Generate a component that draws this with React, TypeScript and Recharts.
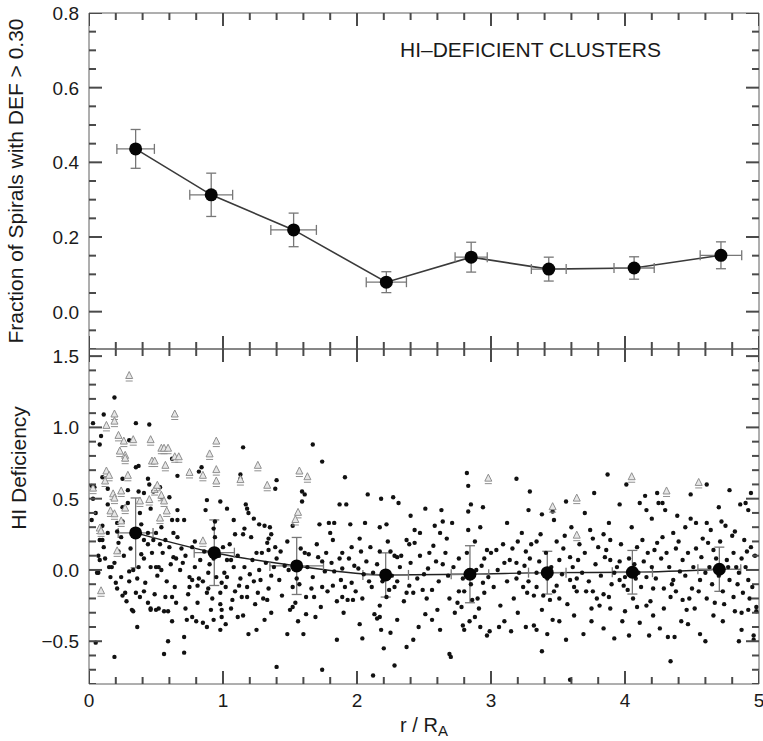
import { ComposedChart, Scatter, Line, XAxis, YAxis, ErrorBar } from 'recharts';

// top panel: fraction of spirals with DEF > 0.30, per radial bin
const binX = [0.348, 0.912, 1.527, 2.219, 2.852, 3.431, 4.068, 4.716];
const fracY = [0.436, 0.313, 0.219, 0.079, 0.146, 0.114, 0.117, 0.151];
const fracErrY = [0.052, 0.058, 0.045, 0.028, 0.04, 0.032, 0.03, 0.036];
const fracErrX = [0.14, 0.16, 0.17, 0.15, 0.12, 0.13, 0.15, 0.155];

// bottom panel: binned mean deficiency
const meanX = [0.348, 0.935, 1.55, 2.214, 2.843, 3.42, 4.055, 4.704];
const meanY = [0.26, 0.121, 0.028, -0.035, -0.03, -0.019, -0.016, 0.005];
const meanErrY = [0.245, 0.23, 0.2, 0.155, 0.2, 0.15, 0.153, 0.155];
const meanErrX = [0.13, 0.15, 0.2, 0.17, 0.14, 0.14, 0.15, 0.16];

// individual galaxies (r/RA, DEF)
const dotsInner: [number, number][] = [
  [0.19,1.21],[0.03,1.03],[0.11,1.09],[0.09,0.94],[0.08,0.88],[0.35,1.03],[0.45,1.02],[0.30,0.91],[1.15,0.86],[1.67,0.88],
  [1.74,0.76],[0.35,0.72],[0.37,0.73],[0.84,0.72],[0.82,0.69],[0.62,0.78],[0.66,0.66],[0.10,0.65],[0.25,0.64],[0.02,0.59],
  [0.44,0.64],[0.45,0.60],[1.13,0.67],[1.13,0.64],[1.40,0.63],[1.39,0.57],[1.91,0.65],[2.08,0.53],[1.87,0.46],[1.92,0.46],
  [1.17,0.46],[1.18,0.43],[0.88,0.49],[0.98,0.48],[1.03,0.43],[1.08,0.35],[1.09,0.25],[1.19,0.40],[1.23,0.36],[1.27,0.32],
  [1.31,0.31],[1.35,0.30],[1.36,0.25],[1.34,0.22],[1.33,0.19],[1.21,0.23],[1.25,0.12],[1.34,0.14],[1.39,0.16],[1.43,0.13],
  [1.52,0.31],[1.59,0.48],[1.59,0.55],[1.61,0.53],[1.72,0.32],[1.79,0.33],[1.80,0.26],[1.83,0.33],[1.95,0.32],[2.06,0.33],
  [2.17,0.30],[2.22,0.32],[2.18,0.50],[2.27,0.51],[2.31,0.47],[1.82,0.21],[1.89,0.12],[1.96,0.16],[2.03,0.13],[2.10,0.16],
  [2.17,0.13],[2.25,0.13],[2.28,0.10],[2.30,0.09],[1.61,0.12],[1.64,0.11],[1.71,0.09],[1.74,0.06],[1.76,-0.01],[1.83,-0.01],
  [1.89,0.01],[1.98,0.03],[2.01,0.01],[2.05,-0.03],[2.12,-0.02],[2.09,-0.08],[1.96,-0.09],[1.88,-0.07],[1.82,-0.11],[1.78,-0.15],
  [1.74,-0.12],[1.66,-0.13],[1.68,-0.19],[1.62,-0.19],[1.57,-0.10],[1.52,-0.12],[1.50,-0.28],[1.54,-0.23],[1.52,-0.26],[1.62,-0.31],
  [1.69,-0.33],[1.89,-0.19],[1.93,-0.21],[1.97,-0.21],[2.04,-0.20],[2.17,-0.25],[2.13,-0.31],[2.17,-0.33],[2.22,-0.19],[2.28,-0.12],
  [2.24,-0.14],[1.49,0.00],[1.42,-0.07],[1.34,-0.13],[1.38,0.02],[1.27,0.00],[1.28,-0.07],[1.23,-0.08],[1.26,-0.16],[1.30,-0.20],
  [1.33,-0.21],[1.14,-0.19],[1.15,-0.32],[1.07,-0.21],[1.06,-0.27],[0.98,-0.16],[0.98,-0.24],[0.99,-0.28],[0.91,-0.28],[1.12,-0.11],
  [1.13,-0.06],[1.08,0.02],[1.01,-0.02],[1.03,-0.05],[0.89,-0.02],[0.82,-0.06],[0.81,-0.11],[0.88,-0.16],[0.81,-0.23],[0.75,-0.05],
  [0.75,-0.12],[0.77,-0.33],[0.72,-0.27],[0.62,-0.19],[0.65,-0.23],[0.57,-0.19],[0.52,-0.27],[0.50,-0.28],[0.59,-0.29],[0.46,-0.28],
  [0.44,-0.23],[0.41,-0.15],[0.38,-0.19],[0.35,-0.16],[0.33,-0.29],[0.27,-0.16],[0.25,-0.18],[0.21,-0.13],[0.07,-0.02],[0.08,0.07],
  [0.07,0.10],[0.06,-0.02],[0.22,0.13],[0.22,0.19],[0.24,0.23],[0.17,0.02],[0.15,0.02],[0.20,-0.09],[0.24,-0.05],[0.30,-0.08],
  [0.30,-0.01],[0.33,0.00],[0.37,0.02],[0.41,0.08],[0.46,0.02],[0.50,0.02],[0.52,0.02],[0.51,-0.04],[0.54,0.00],[0.44,0.18],
  [0.48,0.21],[0.53,0.18],[0.57,0.21],[0.60,0.16],[0.63,0.09],[0.65,0.08],[0.69,0.15],[0.70,0.05],[0.66,0.23],[0.63,0.26],
  [0.62,0.35],[0.66,0.35],[0.71,0.35],[0.66,0.42],[0.54,0.30],[0.50,0.26],[0.44,0.26],[0.41,0.21],[0.39,0.32],[0.38,0.40],
  [0.41,0.54],[0.37,0.55],[0.46,0.43],[0.48,0.55],[0.53,0.58],[0.54,0.51],[0.60,0.51],[0.25,0.34],[0.25,0.44],[0.21,0.33],
  [0.21,0.27],[0.14,0.26],[0.10,0.31],[0.02,0.35],[0.05,0.40],[0.03,0.50],[0.04,0.58],[0.14,0.46],[0.14,0.57],[0.29,0.56],
  [0.29,0.47],[0.08,0.21],[0.10,0.21],[0.11,0.16],[0.77,-0.07],[0.89,-0.13],[0.99,-0.09],[1.18,-0.19],[1.18,-0.12],[1.03,0.07],
  [1.06,0.07],[0.93,0.08],[1.00,0.16],[0.83,0.07],[0.77,0.16],[0.79,0.20],[0.87,0.42],[0.94,0.34],[0.93,0.29],[0.94,0.23],
  [1.16,0.29],[1.15,0.25],
];

const dotsLow: [number, number][] = [
  [0.05,-0.51],[0.19,-0.61],[0.32,-0.28],[0.46,-0.27],[0.56,-0.29],[0.59,-0.50],[0.56,-0.59],[0.71,-0.47],[0.71,-0.58],[0.73,-0.35],
  [0.80,-0.36],[0.85,-0.37],[0.88,-0.40],[0.98,-0.42],[0.93,-0.35],[0.99,-0.33],[1.11,-0.33],[1.19,-0.45],[1.25,-0.42],[1.31,-0.35],
  [1.40,-0.68],[1.48,-0.45],[1.60,-0.45],[1.74,-0.70],[1.85,-0.49],[2.04,-0.48],[2.12,-0.74],[2.15,-0.34],[2.18,-0.42],[2.20,-0.55],
  [2.28,-0.67],[2.25,-0.44],[2.30,-0.35],[2.37,-0.54],[2.42,-0.49],[2.56,-0.35],[2.69,-0.59],[2.70,-0.61],[2.79,-0.39],[2.80,-0.42],
  [2.84,-0.36],[2.92,-0.40],[2.97,-0.46],[2.99,-0.43],[3.06,-0.40],[3.10,-0.36],[3.15,-0.43],[3.26,-0.40],[3.32,-0.39],[3.34,-0.42],
  [3.38,-0.57],[3.46,-0.35],[3.51,-0.36],[3.56,-0.49],[3.59,-0.77],[3.69,-0.45],[3.75,-0.36],[3.84,-0.41],[3.92,-0.48],[4.03,-0.46],
  [4.11,-0.37],[4.18,-0.46],[4.26,-0.41],[4.32,-0.47],[4.34,-0.64],[4.37,-0.47],[4.42,-0.36],[4.56,-0.45],[4.60,-0.50],[4.73,-0.36],
  [4.87,-0.42],[4.96,-0.46],[4.96,-0.49],[4.82,-0.29],[4.98,-0.29],
  [0.36,-0.40],[0.62,-0.36],[1.02,-0.38],[1.36,-0.30],[1.56,-0.36],[1.90,-0.30],[2.02,-0.38],[2.46,-0.40],[2.62,-0.42],[2.88,-0.33],
  [3.20,-0.30],[3.42,-0.45],[3.62,-0.32],[3.98,-0.36],[4.21,-0.32],[4.47,-0.38],[4.66,-0.32],[4.85,-0.50],
];

const dotsOuter: [number, number][] = [
  [2.51,0.43],[2.63,0.42],[2.64,0.34],[2.71,0.33],[2.62,0.26],[2.67,0.22],[2.82,0.68],[2.83,0.59],[2.85,0.46],[2.83,0.41],
  [2.83,0.28],[2.94,0.44],[3.19,0.64],[3.29,0.55],[3.38,0.39],[3.46,0.41],[3.47,0.35],[3.56,0.48],[3.77,0.54],[3.87,0.67],
  [3.88,0.33],[3.96,0.46],[4.01,0.60],[4.11,0.47],[4.15,0.52],[4.16,0.42],[4.24,0.54],[4.25,0.47],[4.28,0.47],[4.30,0.42],
  [4.39,0.38],[4.49,0.53],[4.49,0.36],[4.53,0.33],[4.61,0.60],[4.61,0.33],[4.64,0.28],[4.72,0.34],[4.75,0.31],[4.78,0.56],
  [4.82,0.27],[4.86,0.46],[4.90,0.47],[4.92,0.42],[4.94,0.54],[4.94,0.16],[4.89,0.21],[4.87,0.08],[4.91,0.13],
  [2.40,0.38],[2.58,0.31],[2.92,0.30],[3.12,0.33],[3.28,0.42],[3.60,0.30],[3.70,0.40],[4.05,0.30],[4.20,0.36],[4.45,0.30],[4.70,0.44],
  [2.37,0.21],[2.43,0.28],[2.47,0.26],[2.39,0.18],[2.43,0.19],[2.33,0.10],[2.54,0.12],[2.59,0.06],[2.64,0.04],[2.53,0.01],
  [2.50,-0.03],[2.39,-0.11],[2.42,-0.16],[2.37,-0.16],[2.30,-0.08],[2.56,-0.14],[2.49,-0.14],[2.69,-0.20],[2.75,-0.23],[2.78,-0.26],
  [2.60,-0.28],[2.51,-0.31],[2.76,0.08],[2.76,-0.15],[2.80,-0.15],[2.86,-0.21],[2.91,-0.27],[2.95,-0.16],[2.94,-0.09],[2.98,-0.05],
  [2.89,0.00],[2.95,0.08],[2.97,0.14],[3.00,0.12],[3.04,0.14],[3.09,0.18],[3.10,0.05],[3.14,0.07],[3.19,0.05],[3.19,-0.06],
  [3.24,-0.12],[3.27,-0.16],[3.32,-0.18],[3.34,-0.12],[3.39,-0.18],[3.44,-0.21],[3.34,-0.02],[3.29,0.08],[3.26,0.13],[3.23,0.26],
  [3.20,0.20],[3.34,0.20],[3.37,0.25],[3.49,0.20],[3.51,0.07],[3.54,0.15],[3.59,0.09],[3.65,0.07],[3.64,-0.06],[3.59,-0.07],
  [3.49,-0.11],[3.51,-0.20],[3.64,-0.15],[3.71,-0.15],[3.76,-0.15],[3.84,-0.17],[3.88,-0.19],[3.81,-0.25],[3.75,-0.27],[3.66,0.18],
  [3.74,0.28],[3.76,0.22],[3.80,0.16],[3.84,0.25],[3.89,0.21],[3.85,0.09],[3.89,0.07],[3.96,0.06],[3.92,-0.02],[3.96,-0.07],
  [3.99,-0.11],[4.02,-0.14],[4.04,0.00],[4.08,-0.06],[4.12,-0.12],[4.16,-0.05],[4.21,-0.13],[4.17,0.12],[4.22,0.14],[4.13,0.21],
  [4.09,0.16],[4.24,0.19],[4.28,0.23],[4.36,0.26],[4.31,0.12],[4.38,0.15],[4.43,0.07],[4.41,-0.01],[4.36,-0.07],[4.29,-0.13],
  [4.34,-0.19],[4.38,-0.15],[4.43,-0.21],[4.50,-0.13],[4.56,-0.07],[4.60,-0.02],[4.63,0.02],[4.57,0.09],[4.53,0.15],[4.62,0.19],
  [4.68,0.08],[4.76,0.07],[4.81,0.12],[4.83,0.02],[4.78,-0.07],[4.85,-0.02],[4.92,-0.07],[4.93,-0.20],[4.88,-0.16],[4.81,-0.19],
  [4.73,-0.15],[4.67,-0.23],[4.61,-0.20],[4.52,-0.27],[4.46,-0.28],[4.29,-0.27],[4.16,-0.25],[4.09,-0.26],[4.00,-0.29],[3.89,-0.27],
  [4.92,-0.28],[4.98,-0.26],
];

// the crowded band around zero
const dotsBand: [number, number][] = [
  [0.12,0.08],[0.16,-0.05],[0.19,0.05],[0.26,0.10],[0.28,-0.22],[0.31,0.15],[0.36,-0.06],[0.39,0.11],[0.42,-0.09],[0.47,0.12],
  [0.49,-0.17],[0.55,0.12],[0.58,-0.08],[0.61,0.04],[0.64,-0.12],[0.68,0.00],[0.72,0.10],[0.74,-0.17],[0.79,0.02],[0.85,-0.08],
  [0.86,0.13],[0.90,0.04],[0.92,-0.20],[0.95,-0.05],[0.97,0.10],[1.02,-0.12],[1.05,0.18],[1.09,-0.15],[1.11,0.10],[1.16,0.02],
  [1.20,-0.03],[1.22,0.07],[1.24,-0.24],[1.29,0.12],[1.32,0.05],[1.36,-0.04],[1.40,0.08],[1.44,-0.18],[1.46,0.03],[1.48,0.20],
  [1.55,-0.06],[1.58,0.15],[1.63,0.02],[1.67,-0.05],[1.70,0.18],[1.73,-0.26],[1.77,0.12],[1.81,0.05],[1.85,-0.22],[1.87,0.08],
  [1.91,-0.12],[1.94,0.08],[1.99,-0.15],[2.02,0.22],[2.07,0.06],[2.11,-0.12],[2.15,0.04],[2.19,-0.08],[2.23,0.20],[2.26,-0.04],
  [2.32,0.02],[2.35,-0.22],[2.40,0.05],[2.45,-0.06],[2.47,0.10],[2.52,-0.20],[2.57,0.17],[2.61,-0.08],[2.66,0.12],[2.68,-0.04],
  [2.72,0.02],[2.73,-0.30],[2.79,-0.06],[2.82,0.12],[2.85,-0.10],[2.88,0.20],[2.90,-0.20],[2.93,0.03],[3.02,-0.12],[3.05,0.00],
  [3.07,-0.25],[3.12,-0.08],[3.16,0.15],[3.17,-0.20],[3.21,-0.02],[3.25,0.03],[3.28,-0.08],[3.30,0.18],[3.36,0.06],[3.38,-0.28],
  [3.41,0.12],[3.42,-0.06],[3.45,0.02],[3.47,-0.15],[3.53,-0.03],[3.55,0.24],[3.57,-0.24],[3.61,0.02],[3.62,-0.12],[3.68,-0.02],
  [3.70,0.12],[3.73,-0.08],[3.78,0.04],[3.79,-0.20],[3.82,-0.04],[3.86,0.14],[3.90,-0.10],[3.94,0.02],[3.97,0.18],[4.00,-0.05],
  [4.03,0.08],[4.06,-0.20],[4.07,0.04],[4.10,-0.02],[4.14,0.06],[4.19,-0.22],[4.20,0.02],[4.23,-0.06],[4.27,0.08],[4.33,0.02],
  [4.35,-0.10],[4.40,0.20],[4.45,-0.04],[4.47,0.12],[4.48,-0.20],[4.51,0.02],[4.55,-0.15],[4.58,0.22],[4.65,-0.10],[4.66,0.14],
  [4.70,-0.04],[4.71,0.20],[4.74,-0.24],[4.77,0.02],[4.80,0.24],[4.84,-0.10],[4.87,-0.30],[4.90,0.02],[4.95,-0.12],[4.97,0.10],
];

// lower limits on deficiency (drawn as arrows)
const limits: [number, number][] = [
  [0.30,1.35],[0.19,1.08],[0.19,1.03],[0.13,1.00],[0.64,1.08],[0.22,0.93],[0.26,0.89],[0.33,0.90],[0.23,0.82],[0.27,0.79],
  [0.27,0.77],[0.46,0.90],[0.54,0.84],[0.56,0.84],[0.59,0.84],[0.64,0.78],[0.67,0.78],[0.57,0.72],[0.47,0.75],[0.49,0.75],
  [0.95,0.89],[0.90,0.80],[0.95,0.69],[0.95,0.61],[0.75,0.67],[0.85,0.65],[1.13,0.62],[1.26,0.72],[1.33,0.58],[1.57,0.68],
  [1.63,0.64],[0.13,0.68],[0.15,0.65],[0.12,0.61],[0.29,0.65],[0.24,0.54],[0.18,0.52],[0.19,0.49],[0.16,0.40],[0.19,0.38],
  [0.27,0.42],[0.24,0.33],[0.08,0.28],[0.09,0.26],[0.03,0.56],[0.45,0.48],[0.49,0.55],[0.51,0.58],[0.54,0.51],[0.56,0.47],
  [0.58,0.40],[0.53,0.35],[0.38,0.47],[1.56,0.39],[1.54,0.34],[0.85,0.19],[0.21,0.12],[0.09,-0.16],[2.98,0.63],[3.46,0.43],
  [3.64,0.49],[3.64,0.23],[4.05,0.64],[4.31,0.54],[4.55,0.60],
];

const topLabels = [0, 0.2, 0.4, 0.6, 0.8];
const bottomLabels = [-0.5, 0, 0.5, 1.0, 1.5];
const xLabels = [0, 1, 2, 3, 4, 5];

const steps = (a: number, b: number, s: number) => {
  const out: number[] = [];
  for (let v = a; v <= b + 1e-9; v += s) out.push(Math.round(v * 1000) / 1000);
  return out;
};

const W = 763;
const AXIS = '#5e5e5e';
const MARK = '#4a4a4a';
const FONT = '"Liberation Sans", Arial, Helvetica, sans-serif';
const INK = '#1a1a1a';

const toRows = (pts: [number, number][]) => pts.map(([x, y]) => ({ x, y }));
const dotRows = toRows([...dotsInner, ...dotsLow, ...dotsOuter, ...dotsBand]);
const limitRows = toRows(limits);
const fracRows = binX.map((x, i) => ({ x, y: fracY[i], ey: fracErrY[i], ex: fracErrX[i] }));
const meanRows = meanX.map((x, i) => ({ x, y: meanY[i], ey: meanErrY[i], ex: meanErrX[i] }));

const near = (a: number, list: number[]) => list.some((b) => Math.abs(a - b) < 1e-6);
const fmt = (v: number) => (v < 0 ? '\u2212' : '') + Math.abs(v).toFixed(1);

const xTicks = steps(0, 5, 0.2);
const topYTicks = steps(-0.1, 0.8, 0.05);
const bottomYTicks = steps(-0.8, 1.5, 0.1);

// inward tick marks: one scatter per edge and length, each shape uses only cx/cy
const markShape = (dx: number, dy: number, len: number) => (p: any) => (
  <line x1={p.cx} y1={p.cy} x2={p.cx + dx * len} y2={p.cy + dy * len} stroke={MARK} strokeWidth={2} />
);
function markSeries(yDomain: [number, number], yTicks: number[], yLabels: number[]) {
  const xMaj = xTicks.filter((v) => near(v, xLabels));
  const xMin = xTicks.filter((v) => !near(v, xLabels));
  const yMaj = yTicks.filter((v) => near(v, yLabels));
  const yMin = yTicks.filter((v) => !near(v, yLabels));
  return [
    { rows: xMaj.map((x) => ({ x, y: yDomain[0] })), shape: markShape(0, -1, 13) },
    { rows: xMin.map((x) => ({ x, y: yDomain[0] })), shape: markShape(0, -1, 7) },
    { rows: xMaj.map((x) => ({ x, y: yDomain[1] })), shape: markShape(0, 1, 13) },
    { rows: xMin.map((x) => ({ x, y: yDomain[1] })), shape: markShape(0, 1, 7) },
    { rows: yMaj.map((y) => ({ x: 0, y })), shape: markShape(1, 0, 13) },
    { rows: yMin.map((y) => ({ x: 0, y })), shape: markShape(1, 0, 7) },
    { rows: yMaj.map((y) => ({ x: 5, y })), shape: markShape(-1, 0, 13) },
    { rows: yMin.map((y) => ({ x: 5, y })), shape: markShape(-1, 0, 7) },
  ];
}
const topMarks = markSeries([-0.1, 0.8], topYTicks, topLabels);
const bottomMarks = markSeries([-0.8, 1.55], bottomYTicks, bottomLabels);

// axis labels only; the marks come from the scatter series above
const xLabel = (show: boolean) => (p: any) => {
  const v = p.payload.value;
  if (!show || !near(v, xLabels)) return <g />;
  return (
    <text x={p.x} y={p.y + 23} textAnchor="middle" fontSize={19} fontFamily={FONT} fill={INK}>
      {v}
    </text>
  );
};
const yLabel = (labels: number[]) => (p: any) => {
  const v = p.payload.value;
  if (!near(v, labels)) return <g />;
  return (
    <text x={p.x - 10} y={p.y} dy="0.36em" textAnchor="end" fontSize={19} fontFamily={FONT} fill={INK}>
      {fmt(v)}
    </text>
  );
};

const Dot = (p: any) => <circle cx={p.cx} cy={p.cy} r={2.2} fill="#111" />;
const Big = (p: any) => <circle cx={p.cx} cy={p.cy} r={6.5} fill="#050505" />;
const Limit = (p: any) => (
  <g stroke="#8f8f8f" strokeWidth={1} fill="#e6e6e6">
    <path d={`M${p.cx},${p.cy - 6} L${p.cx - 3.5},${p.cy + 1} L${p.cx + 3.5},${p.cy + 1} Z`} />
    <line x1={p.cx - 3.5} x2={p.cx + 3.5} y1={p.cy + 3.5} y2={p.cy + 3.5} />
  </g>
);

// four axes make the box; every axis needs a non-zero size or recharts skips it
function frame(yDomain: [number, number], yTicks: number[], yLabels: number[], xLabelled: boolean) {
  return [
    <XAxis key="xb" xAxisId="b" dataKey="x" type="number" orientation="bottom" domain={[0, 5]} allowDataOverflow
      ticks={xTicks} interval={0} height={1} tickSize={0} tickMargin={0} tickLine={false} stroke={AXIS}
      tick={xLabel(xLabelled)} />,
    <XAxis key="xt" xAxisId="t" dataKey="x" type="number" orientation="top" domain={[0, 5]} allowDataOverflow
      ticks={xTicks} interval={0} height={1} tickSize={0} tickMargin={0} tickLine={false} stroke={AXIS}
      tick={false} />,
    <YAxis key="yl" yAxisId="l" dataKey="y" type="number" orientation="left" domain={yDomain} allowDataOverflow
      ticks={yTicks} interval={0} width={89} tickSize={0} tickMargin={0} tickLine={false} stroke={AXIS}
      tick={yLabel(yLabels)} />,
    <YAxis key="yr" yAxisId="r" dataKey="y" type="number" orientation="right" domain={yDomain} allowDataOverflow
      ticks={yTicks} interval={0} width={1} tickSize={0} tickMargin={0} tickLine={false} stroke={AXIS}
      tick={false} />,
  ];
}

export default function App() {
  return (
    <div style={{ position: 'absolute', left: 0, top: 0, width: W, height: 741, background: '#fff', fontFamily: FONT }}>
      <div style={{ position: 'absolute', left: 0, top: 0 }}>
        <ComposedChart width={W} height={351} margin={{ top: 12, right: 3, bottom: 1, left: 0 }}>
          {frame([-0.1, 0.8], topYTicks, topLabels, false)}
          <Line data={fracRows} xAxisId="b" yAxisId="l" dataKey="y" type="linear" stroke="#3a3a3a" strokeWidth={1.6}
            dot={false} activeDot={false} isAnimationActive={false} />
          <Scatter data={fracRows} xAxisId="b" yAxisId="l" dataKey="y" shape={Big} isAnimationActive={false}>
            <ErrorBar dataKey="ex" direction="x" width={5} stroke="#777" strokeWidth={1.3} />
            <ErrorBar dataKey="ey" direction="y" width={5} stroke="#777" strokeWidth={1.3} />
          </Scatter>
          {topMarks.map((m, i) => (
            <Scatter key={`tm${i}`} name={`tm${i}`} data={m.rows} xAxisId="b" yAxisId="l" dataKey="y" shape={m.shape}
              isAnimationActive={false} />
          ))}
        </ComposedChart>
      </div>
      <div style={{ position: 'absolute', left: 0, top: 347 }}>
        <ComposedChart width={W} height={394} margin={{ top: 1, right: 3, bottom: 56, left: 0 }}>
          {frame([-0.8, 1.55], bottomYTicks, bottomLabels, true)}
          <Scatter data={dotRows} xAxisId="b" yAxisId="l" dataKey="y" shape={Dot} isAnimationActive={false} />
          <Scatter data={limitRows} xAxisId="b" yAxisId="l" dataKey="y" shape={Limit} isAnimationActive={false} />
          <Line data={meanRows} xAxisId="b" yAxisId="l" dataKey="y" type="monotone" stroke="#222" strokeWidth={1.4}
            dot={false} activeDot={false} isAnimationActive={false} />
          <Scatter data={meanRows} xAxisId="b" yAxisId="l" dataKey="y" shape={Big} isAnimationActive={false}>
            <ErrorBar dataKey="ex" direction="x" width={5} stroke="#777" strokeWidth={1.3} />
            <ErrorBar dataKey="ey" direction="y" width={5} stroke="#777" strokeWidth={1.3} />
          </Scatter>
          {bottomMarks.map((m, i) => (
            <Scatter key={`bm${i}`} name={`bm${i}`} data={m.rows} xAxisId="b" yAxisId="l" dataKey="y" shape={m.shape}
              isAnimationActive={false} />
          ))}
        </ComposedChart>
      </div>

      <div style={{ position: 'absolute', left: 400, top: 39, fontSize: 21, lineHeight: '21px', color: INK, whiteSpace: 'nowrap' }}>
        HI–DEFICIENT CLUSTERS
      </div>
      <div style={{ position: 'absolute', left: 224, top: 715, width: 400, textAlign: 'center', fontSize: 20, lineHeight: '20px', color: INK }}>
        r / R<sub style={{ fontSize: 15, verticalAlign: -4 }}>A</sub>
      </div>
      <div style={{ position: 'absolute', left: 16 - 200, top: 181 - 12, width: 400, height: 24, lineHeight: '24px',
        textAlign: 'center', fontSize: 21, color: INK, transform: 'rotate(-90deg)', whiteSpace: 'nowrap' }}>
        Fraction of Spirals with DEF &gt; 0.30
      </div>
      <div style={{ position: 'absolute', left: 19 - 200, top: 468 - 12, width: 400, height: 24, lineHeight: '24px',
        textAlign: 'center', fontSize: 21, color: INK, transform: 'rotate(-90deg)', whiteSpace: 'nowrap' }}>
        HI Deficiency
      </div>
    </div>
  );
}
